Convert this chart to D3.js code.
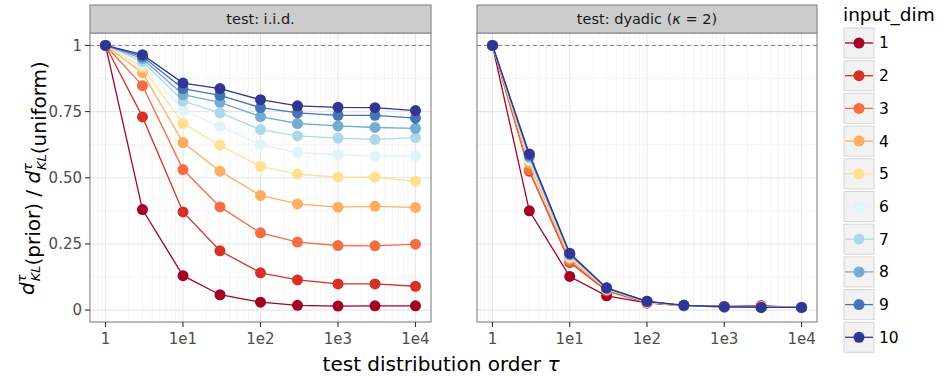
<!DOCTYPE html>
<html>
<head>
<meta charset="utf-8">
<script src="https://cdn.jsdelivr.net/npm/d3@7"></script>
<style>
  body { margin: 0; background: #fff; }
  svg { font-family: "DejaVu Sans", sans-serif; }
</style>
</head>
<body>
<div id="chart"></div>
<script>
// test distribution orders
const orders = [1, 3, 10, 30, 100, 300, 1000, 3000, 10000];
const xTicks = [1, 10, 100, 1000, 10000];
const xTickLabels = ["1", "1e1", "1e2", "1e3", "1e4"];
const yTicks = [0, 0.25, 0.5, 0.75, 1];
const yTickLabels = ["0", "0.25", "0.50", "0.75", "1"];
const inputDims = ["1", "2", "3", "4", "5", "6", "7", "8", "9", "10"];
const colors = ["#a50026", "#d73027", "#f46d43", "#fdae61", "#fee090",
                "#e0f3f8", "#abd9e9", "#74add1", "#4575b4", "#313695"];

// panel: test i.i.d. (one row per input_dim)
const iid = [
  [1, 0.38, 0.13, 0.058, 0.030, 0.018, 0.015, 0.016, 0.016],
  [1, 0.73, 0.371, 0.224, 0.141, 0.114, 0.099, 0.099, 0.090],
  [1, 0.848, 0.531, 0.39, 0.292, 0.257, 0.244, 0.243, 0.249],
  [1, 0.897, 0.633, 0.525, 0.433, 0.401, 0.389, 0.392, 0.388],
  [1, 0.918, 0.705, 0.623, 0.543, 0.514, 0.502, 0.502, 0.487],
  [1, 0.93, 0.755, 0.694, 0.625, 0.595, 0.587, 0.582, 0.582],
  [1, 0.94, 0.79, 0.745, 0.682, 0.658, 0.65, 0.645, 0.652],
  [1, 0.95, 0.814, 0.785, 0.731, 0.705, 0.696, 0.69, 0.687],
  [1, 0.958, 0.837, 0.811, 0.765, 0.745, 0.736, 0.736, 0.725],
  [1, 0.965, 0.858, 0.837, 0.795, 0.772, 0.766, 0.765, 0.754]
];

// panel: test dyadic (kappa = 2)
const dyadic = [
  [1, 0.375, 0.127, 0.054, 0.027, 0.018, 0.014, 0.016, 0.010],
  [1, 0.525, 0.18, 0.072, 0.027, 0.016, 0.012, 0.015, 0.010],
  [1, 0.53, 0.185, 0.075, 0.028, 0.016, 0.012, 0.014, 0.010],
  [1, 0.555, 0.195, 0.078, 0.030, 0.017, 0.012, 0.012, 0.010],
  [1, 0.565, 0.20, 0.080, 0.031, 0.017, 0.012, 0.012, 0.010],
  [1, 0.57, 0.205, 0.080, 0.031, 0.017, 0.012, 0.011, 0.010],
  [1, 0.575, 0.207, 0.081, 0.032, 0.017, 0.012, 0.011, 0.010],
  [1, 0.58, 0.21, 0.082, 0.032, 0.018, 0.012, 0.010, 0.010],
  [1, 0.585, 0.212, 0.083, 0.033, 0.018, 0.012, 0.010, 0.010],
  [1, 0.59, 0.215, 0.084, 0.033, 0.018, 0.013, 0.010, 0.010]
];

const W = 951, H = 377;
const svg = d3.select("#chart").append("svg")
    .attr("width", W).attr("height", H);

const panelTop = 33, panelBottom = 322, stripTop = 5;
const panels = [
    { left: 90, right: 431, data: iid, title: "iid" },
    { left: 477, right: 817, data: dyadic, title: "dyadic" }
];

const y = d3.scaleLinear().domain([-0.045, 1.047]).range([panelBottom, panelTop]);
const minorX = [];
[0.1, 1, 10, 100, 1000].forEach(b => {
    for (let k = 2; k <= 9; k++) minorX.push(b * k);
});
const minorY = [0.125, 0.375, 0.625, 0.875];

panels.forEach((p, pi) => {
    const x = d3.scaleLog()
        .domain([Math.pow(10, -0.2), Math.pow(10, 4.2)])
        .range([p.left, p.right]);
    const g = svg.append("g");
    const inX = minorX.filter(v => x(v) > p.left && x(v) < p.right);

    // minor grid
    g.selectAll(".minx").data(inX).enter().append("line")
        .attr("x1", d => x(d)).attr("x2", d => x(d))
        .attr("y1", panelTop).attr("y2", panelBottom)
        .attr("stroke", "#f3f3f3").attr("stroke-width", 0.8);
    g.selectAll(".miny").data(minorY).enter().append("line")
        .attr("x1", p.left).attr("x2", p.right)
        .attr("y1", d => y(d)).attr("y2", d => y(d))
        .attr("stroke", "#f3f3f3").attr("stroke-width", 0.8);
    // major grid
    g.selectAll(".majx").data(xTicks).enter().append("line")
        .attr("x1", d => x(d)).attr("x2", d => x(d))
        .attr("y1", panelTop).attr("y2", panelBottom)
        .attr("stroke", "#e6e6e6").attr("stroke-width", 1.1);
    g.selectAll(".majy").data(yTicks).enter().append("line")
        .attr("x1", p.left).attr("x2", p.right)
        .attr("y1", d => y(d)).attr("y2", d => y(d))
        .attr("stroke", "#e6e6e6").attr("stroke-width", 1.1);

    // reference line at 1
    g.append("line")
        .attr("x1", p.left).attr("x2", p.right)
        .attr("y1", y(1)).attr("y2", y(1))
        .attr("stroke", "#808080").attr("stroke-width", 1)
        .attr("stroke-dasharray", "4,3");

    // series
    const line = d3.line().x((d, i) => x(orders[i])).y(d => y(d));
    p.data.forEach((vals, si) => {
        const sg = g.append("g");
        sg.append("path").datum(vals)
            .attr("d", line)
            .attr("fill", "none")
            .attr("stroke", colors[si])
            .attr("stroke-width", 1.3);
        sg.selectAll("circle").data(vals).enter().append("circle")
            .attr("cx", (d, i) => x(orders[i]))
            .attr("cy", d => y(d))
            .attr("r", 5.5)
            .attr("fill", colors[si]);
    });

    // panel border
    g.append("rect")
        .attr("x", p.left).attr("y", panelTop)
        .attr("width", p.right - p.left).attr("height", panelBottom - panelTop)
        .attr("fill", "none").attr("stroke", "#8c8c8c").attr("stroke-width", 1.2);

    // strip
    g.append("rect")
        .attr("x", p.left).attr("y", stripTop)
        .attr("width", p.right - p.left).attr("height", panelTop - stripTop)
        .attr("fill", "#cccccc").attr("stroke", "#8c8c8c").attr("stroke-width", 1.2);
    const st = g.append("text")
        .attr("x", (p.left + p.right) / 2).attr("y", 24)
        .attr("text-anchor", "middle")
        .attr("font-size", 14.5).attr("fill", "#1a1a1a");
    if (p.title === "iid") {
        st.text("test: i.i.d.");
    } else {
        st.append("tspan").text("test: dyadic (");
        st.append("tspan").attr("font-style", "italic").text("\u03BA");
        st.append("tspan").text(" = 2)");
    }

    // x axis ticks + labels
    g.selectAll(".xt").data(xTicks).enter().append("line")
        .attr("x1", d => x(d)).attr("x2", d => x(d))
        .attr("y1", panelBottom).attr("y2", panelBottom + 5)
        .attr("stroke", "#333").attr("stroke-width", 1.1);
    g.selectAll(".xl").data(xTicks).enter().append("text")
        .attr("x", d => x(d)).attr("y", panelBottom + 22)
        .attr("text-anchor", "middle")
        .attr("font-size", 15).attr("fill", "#4d4d4d")
        .text((d, i) => xTickLabels[i]);

    // y axis only on the first panel
    if (pi === 0) {
        g.selectAll(".yt").data(yTicks).enter().append("line")
            .attr("x1", p.left - 5).attr("x2", p.left)
            .attr("y1", d => y(d)).attr("y2", d => y(d))
            .attr("stroke", "#333").attr("stroke-width", 1.1);
        g.selectAll(".yl").data(yTicks).enter().append("text")
            .attr("x", p.left - 8).attr("y", d => y(d))
            .attr("dy", "0.35em")
            .attr("text-anchor", "end")
            .attr("font-size", 15).attr("fill", "#4d4d4d")
            .text((d, i) => yTickLabels[i]);
    }
});

// x axis title
const xt = svg.append("text")
    .attr("x", 441).attr("y", 371)
    .attr("text-anchor", "middle")
    .attr("font-size", 20).attr("fill", "#000");
xt.append("tspan").text("test distribution order ");
xt.append("tspan").attr("font-style", "italic").text("\u03C4");

// y axis title
const yt = svg.append("text")
    .attr("transform", "translate(34,178) rotate(-90)")
    .attr("text-anchor", "middle")
    .attr("font-size", 20).attr("fill", "#000");
const dkl = (t) => {
    t.append("tspan").attr("font-style", "italic").text("d");
    t.append("tspan").attr("font-style", "italic").attr("font-size", 13)
        .attr("dy", -8).text("\u03C4");
    t.append("tspan").attr("font-style", "italic").attr("font-size", 13)
        .attr("dx", -7).attr("dy", 14).text("KL");
    t.append("tspan").attr("dy", -6).text("");
};
dkl(yt);
yt.append("tspan").text("(prior) / ");
dkl(yt);
yt.append("tspan").text("(uniform)");

// legend
const legX = 844, legY = 28, keyW = 30, keyH = 30, step = 32.7;
svg.append("text")
    .attr("x", legX - 1).attr("y", 21)
    .attr("font-size", 18.5).attr("fill", "#000")
    .text("input_dim");
const lg = svg.selectAll(".key").data(inputDims).enter().append("g")
    .attr("transform", (d, i) => `translate(${legX},${legY + i * step})`);
lg.append("rect")
    .attr("width", keyW).attr("height", keyH)
    .attr("fill", "#f2f2f2").attr("stroke", "#d6d6d6").attr("stroke-width", 1);
lg.append("line")
    .attr("x1", 1).attr("x2", keyW - 1)
    .attr("y1", keyH / 2).attr("y2", keyH / 2)
    .attr("stroke", (d, i) => colors[i]).attr("stroke-width", 1.3);
lg.append("circle")
    .attr("cx", keyW / 2).attr("cy", keyH / 2).attr("r", 5.5)
    .attr("fill", (d, i) => colors[i]);
lg.append("text")
    .attr("x", keyW + 5).attr("y", keyH / 2).attr("dy", "0.35em")
    .attr("font-size", 15.5).attr("fill", "#000")
    .text(d => d);
</script>
</body>
</html>
